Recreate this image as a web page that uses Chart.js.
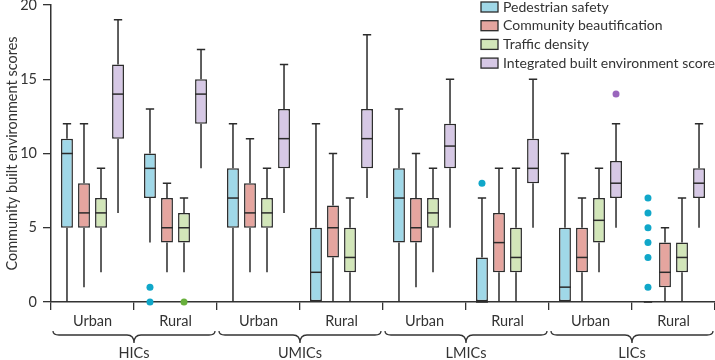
<!DOCTYPE html>
<html lang="en">
<head>
  <meta charset="UTF-8">
  <title>Community built environment scores</title>
  <script src="https://cdn.jsdelivr.net/npm/chart.js"></script>
  <style>
    body { margin: 0; background: #fff; }
    #wrap { width: 715px; height: 360px; position: relative; }
  </style>
</head>
<body>
  <div id="wrap"><canvas id="myChart"></canvas></div>

  <script>
    // settings and income groups
    var settings = ['Urban', 'Rural', 'Urban', 'Rural', 'Urban', 'Rural', 'Urban', 'Rural'];
    var incomeGroups = ['HICs', 'UMICs', 'LMICs', 'LICs'];
    var yTicks = [0, 5, 10, 15, 20];

    // five-number summaries [min, q1, median, q3, max] per setting
    var pedestrian = [[0, 5, 10, 11, 12], [4, 7, 9, 10, 13], [0, 5, 7, 9, 12], [0, 0, 2, 5, 12],
                      [0, 4, 7, 9, 13], [0, 0, 0, 3, 7], [0, 0, 1, 5, 10], [0, 0, 0, 0, 0]];
    var beautification = [[1, 5, 6, 8, 12], [2, 4, 5, 7, 8], [2, 5, 6, 8, 11], [0, 3, 5, 6.5, 10],
                          [1, 4, 5, 7, 10], [0, 2, 4, 6, 9], [0, 2, 3, 5, 7], [0, 1, 2, 4, 5]];
    var traffic = [[2, 5, 6, 7, 9], [2, 4, 5, 6, 7], [2, 5, 6, 7, 9], [0, 2, 3, 5, 7],
                   [2, 5, 6, 7, 9], [0, 2, 3, 5, 9], [2, 4, 5.5, 7, 9], [0, 2, 3, 4, 7]];
    var integrated = [[6, 11, 14, 16, 19], [9, 12, 14, 15, 17], [6, 9, 11, 13, 16], [7, 9, 11, 13, 18],
                      [5, 9, 10.5, 12, 15], [5, 8, 9, 11, 15], [5, 7, 8, 9.5, 12], [5, 7, 8, 9, 12]];

    // outliers per setting
    var pedestrianOut = [[], [0, 1], [], [], [], [8], [], [1, 3, 4, 5, 6, 7]];
    var beautificationOut = [[], [], [], [], [], [], [], []];
    var trafficOut = [[], [0], [], [], [], [], [], []];
    var integratedOut = [[], [], [], [], [], [], [14], []];

    var seriesNames = ['Pedestrian safety', 'Community beautification', 'Traffic density', 'Integrated built environment score'];
    var fills = ['#a0d8e8', '#e5a59f', '#d2e6b9', '#d6c8e5'];
    var dotColors = ['#10a7c9', '#e5a59f', '#68b03c', '#9a66bd'];
    var summaries = [pedestrian, beautification, traffic, integrated];
    var outliers = [pedestrianOut, beautificationOut, trafficOut, integratedOut];

    var ink = '#2b2b2b';
    var fontFamily = 'Lato, "Open Sans", sans-serif';
    Chart.defaults.color = '#333';
    Chart.defaults.font.family = fontFamily;
    Chart.defaults.font.size = 14.5;

    // whiskers, medians, outliers, braces and legend
    var boxPlugin = {
      id: 'boxExtras',
      beforeDatasetsDraw: function(chart) {
        var ctx = chart.ctx;
        var y = chart.scales.y;
        ctx.save();
        ctx.strokeStyle = ink;
        ctx.lineWidth = 1.5;
        chart.data.datasets.forEach(function(ds, di) {
          var meta = chart.getDatasetMeta(di);
          meta.data.forEach(function(bar, i) {
            var s = ds.summary[i];
            var cap = bar.width * 0.35;
            ctx.beginPath();
            ctx.moveTo(bar.x, y.getPixelForValue(s[4]));
            ctx.lineTo(bar.x, y.getPixelForValue(s[3]));
            ctx.moveTo(bar.x, y.getPixelForValue(s[1]));
            ctx.lineTo(bar.x, y.getPixelForValue(s[0]));
            ctx.moveTo(bar.x - cap, y.getPixelForValue(s[4]));
            ctx.lineTo(bar.x + cap, y.getPixelForValue(s[4]));
            ctx.stroke();
          });
        });
        ctx.restore();
      },
      afterDatasetsDraw: function(chart) {
        var ctx = chart.ctx;
        var y = chart.scales.y;
        ctx.save();
        chart.data.datasets.forEach(function(ds, di) {
          var meta = chart.getDatasetMeta(di);
          meta.data.forEach(function(bar, i) {
            var s = ds.summary[i];
            var half = bar.width / 2;
            if (s[3] > s[1]) {
              ctx.strokeStyle = ink;
              ctx.lineWidth = 1.5;
              ctx.beginPath();
              ctx.moveTo(bar.x - half, y.getPixelForValue(s[2]));
              ctx.lineTo(bar.x + half, y.getPixelForValue(s[2]));
              ctx.stroke();
            }
            ctx.fillStyle = ds.dotColor;
            ds.outliers[i].forEach(function(v) {
              ctx.beginPath();
              ctx.arc(bar.x, y.getPixelForValue(v), 3.5, 0, Math.PI * 2);
              ctx.fill();
            });
          });
        });
        ctx.restore();
      },
      afterDraw: function(chart) {
        var ctx = chart.ctx;
        var x = chart.scales.x;
        var bottom = chart.chartArea.bottom;
        var step = x.getPixelForValue(1) - x.getPixelForValue(0);
        ctx.save();
        // braces + income group labels
        ctx.strokeStyle = '#333';
        ctx.lineWidth = 1.3;
        incomeGroups.forEach(function(name, g) {
          var x0 = x.getPixelForValue(g * 2) - step / 2 + 2;
          var x1 = x.getPixelForValue(g * 2 + 1) + step / 2 - 2;
          var mid = (x0 + x1) / 2;
          var y0 = bottom + 29, yb = bottom + 33, tip = bottom + 41;
          ctx.beginPath();
          ctx.moveTo(x0, y0);
          ctx.quadraticCurveTo(x0, yb, x0 + 6, yb);
          ctx.lineTo(mid - 7, yb);
          ctx.quadraticCurveTo(mid, yb, mid, tip);
          ctx.quadraticCurveTo(mid, yb, mid + 7, yb);
          ctx.lineTo(x1 - 6, yb);
          ctx.quadraticCurveTo(x1, yb, x1, y0);
          ctx.stroke();
          ctx.fillStyle = '#333';
          ctx.font = '14.5px ' + fontFamily;
          ctx.textAlign = 'center';
          ctx.textBaseline = 'middle';
          ctx.fillText(name, mid, bottom + 51);
        });
        // legend in the top right corner
        chart.data.datasets.forEach(function(ds, di) {
          var ly = 7 + di * 18.7;
          ctx.fillStyle = ds.backgroundColor;
          ctx.strokeStyle = ink;
          ctx.lineWidth = 1.3;
          ctx.fillRect(481, ly - 5, 17, 10);
          ctx.strokeRect(481, ly - 5, 17, 10);
          ctx.fillStyle = '#333';
          ctx.font = '14px ' + fontFamily;
          ctx.textAlign = 'left';
          ctx.textBaseline = 'middle';
          ctx.fillText(ds.label, 503, ly);
        });
        ctx.restore();
      }
    };

    var datasets = seriesNames.map(function(name, k) {
      return {
        label: name,
        data: summaries[k].map(function(s) { return [s[1], s[3]]; }),
        summary: summaries[k],
        outliers: outliers[k],
        dotColor: dotColors[k],
        backgroundColor: fills[k],
        borderColor: ink,
        borderWidth: 1.5,
        borderSkipped: false,
        categoryPercentage: 0.82,
        barPercentage: 0.7
      };
    });

    new Chart(document.getElementById('myChart'), {
      type: 'bar',
      data: { labels: settings, datasets: datasets },
      plugins: [boxPlugin],
      options: {
        responsive: true,
        maintainAspectRatio: false,
        animation: false,
        layout: { padding: { top: 5, right: 0, bottom: 0, left: 0 } },
        plugins: { legend: { display: false }, tooltip: { enabled: false } },
        scales: {
          x: {
            grid: { offset: true, drawOnChartArea: false, tickLength: 8, color: '#333', lineWidth: 1.3 },
            border: { color: '#333', width: 1.5 },
            ticks: { padding: 3, maxRotation: 0 },
            afterFit: function(scale) { scale.height = 58; scale.paddingLeft = 0; scale.paddingRight = 0; }
          },
          y: {
            min: 0,
            max: 20,
            afterBuildTicks: function(scale) { scale.ticks = yTicks.map(function(v) { return { value: v }; }); },
            grid: { drawOnChartArea: false, tickLength: 8, color: '#333', lineWidth: 1.3 },
            border: { color: '#333', width: 1.5 },
            ticks: { padding: 6 },
            title: { display: true, text: 'Community built environment scores', padding: { top: 4, bottom: 4 } },
            afterFit: function(scale) { scale.width = 51; scale.paddingTop = 0; scale.paddingBottom = 0; }
          }
        }
      }
    });
  </script>
</body>
</html>
